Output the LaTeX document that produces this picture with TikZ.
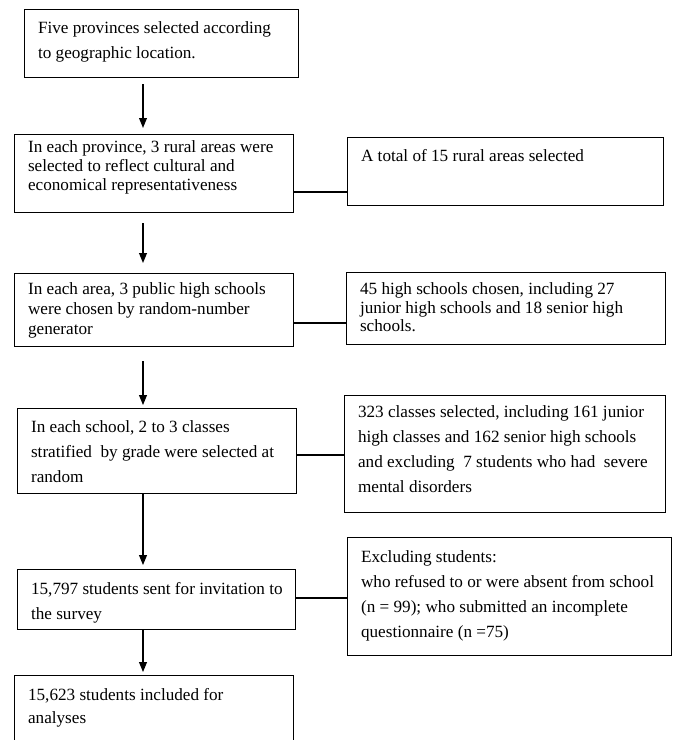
\documentclass[tikz,border=0pt]{standalone}
\usepackage{fontspec}
\setmainfont{Liberation Serif}
\usetikzlibrary{arrows.meta}
\newdimen\px \px=0.025cm
% width, height, first baseline, line skip, text
\newcommand{\boxtext}[5]{\parbox[c][#2\px][t]{#1\px}{\fontsize{12.2pt}{#4\px}\selectfont\raggedright\leftskip=13.5\px\rule{0pt}{#3\px}#5}}

\begin{document}
\begin{tikzpicture}[x=0.025cm, y=-0.025cm,
    stage/.style={draw, line width=0.8pt, anchor=north west, inner sep=0pt},
    flow/.style={-{Triangle[length=7pt, width=5.5pt]}, line width=0.9pt},
    link/.style={line width=0.8pt}]
        \useasboundingbox (0,0) rectangle (676,740);
        % main column
        \node[stage] (prov) at (24,9) {\boxtext{274}{68}{24}{24.5}{Five provinces selected according\\to geographic location.}};
        \node[stage] (area) at (14,134) {\boxtext{279}{78}{18}{19}{In each province, 3 rural areas were\\selected to reflect cultural and\\economical representativeness}};
        \node[stage] (school) at (14,273) {\boxtext{279}{73}{21}{20}{In each area, 3 public high schools\\were chosen by random-number\\generator}};
        \node[stage] (class) at (17,408) {\boxtext{279}{85}{24}{25}{In each school, 2 to 3 classes\\stratified\ \ by grade were selected at\\random}};
        \node[stage] (invite) at (17,569) {\boxtext{278}{60}{25}{25}{15,797 students sent for invitation to\\the survey}};
        \node[stage] (final) at (14,675) {\boxtext{279}{70}{25}{23}{15,623 students included for\\analyses}};
        % side notes
        \node[stage] (areanote) at (347,137) {\boxtext{316}{68}{24}{19}{A total of 15 rural areas selected}};
        \node[stage] (schoolnote) at (346,272) {\boxtext{319}{72}{22}{18.5}{45 high schools chosen, including 27\\junior high schools and 18 senior high\\schools.}};
        \node[stage] (classnote) at (344,395) {\boxtext{321}{117}{22}{25}{323 classes selected, including 161 junior\\high classes and 162 senior high schools\\and excluding\ \ 7 students\ who had\ \ severe\\mental disorders}};
        \node[stage] (exclude) at (347,537) {\boxtext{324}{118}{25}{25}{Excluding students:\\who refused to or were absent from school\\(n = 99); who submitted an incomplete\\questionnaire (n =75)}};
        % arrows
        \coordinate (spine) at (143,0);
        \draw[flow, shorten <=4.3pt, shorten >=4.3pt] (spine |- prov.south) -- (spine |- area.north);
        \draw[flow, shorten <=7.1pt, shorten >=7.1pt] (spine |- area.south) -- (spine |- school.north);
        \draw[flow, shorten <=10pt, shorten >=2.1pt] (spine |- school.south) -- (spine |- class.north);
        \draw[flow, shorten >=2.8pt] (spine |- class.south) -- (spine |- invite.north);
        \draw[flow, shorten >=2.1pt] (spine |- invite.south) -- (spine |- final.north);
        % links to notes
        \draw[link] (area.east |- 0,192) -- (areanote.west |- 0,192);
        \draw[link] (school.east |- 0,323) -- (schoolnote.west |- 0,323);
        \draw[link] (class.east |- 0,455) -- (classnote.west |- 0,455);
        \draw[link] (invite.east |- 0,598) -- (exclude.west |- 0,598);
\end{tikzpicture}
\end{document}
